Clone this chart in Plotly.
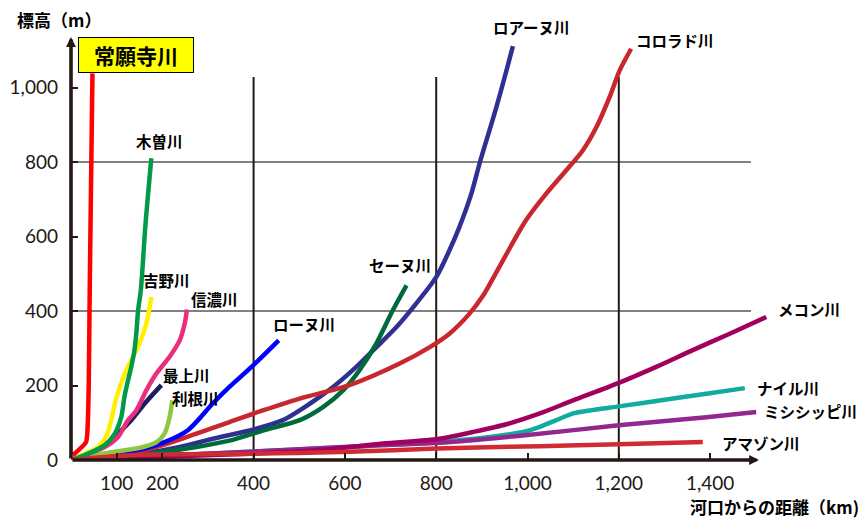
import plotly.graph_objects as go

# River longitudinal profiles: distance from the mouth (km) vs elevation (m)
joganji_km = [4, 33, 37, 39, 41, 44, 47]
joganji_m = [13, 48, 107, 214, 456, 751, 1038]

kiso_km = [0, 30, 74, 96, 110, 117, 125, 132, 139, 143, 147, 153, 163, 176]
kiso_m = [0, 13, 40, 71, 115, 169, 214, 250, 295, 339, 402, 456, 630, 810]

yoshino_km = [0, 30, 59, 77, 88, 96, 107, 121, 136, 150, 165, 176]
yoshino_m = [0, 17, 35, 62, 107, 151, 196, 241, 277, 313, 366, 438]

shinano_km = [0, 37, 74, 103, 125, 143, 165, 187, 216, 238, 249, 254]
shinano_m = [0, 17, 35, 62, 107, 133, 187, 232, 277, 321, 366, 404]

mogami_km = [0, 37, 74, 103, 132, 161, 198]
mogami_m = [0, 17, 40, 71, 107, 151, 201]

tone_km = [0, 45, 96, 158, 187, 205, 216, 222]
tone_m = [0, 13, 22, 35, 48, 71, 115, 160]

rhone_km = [0, 23, 96, 161, 205, 256, 310, 347, 399, 455]
rhone_m = [0, 11, 17, 31, 48, 80, 151, 196, 254, 321]

seine_km = [0, 128, 201, 275, 347, 420, 501, 552, 596, 632, 669, 705, 735]
seine_m = [0, 13, 22, 35, 52, 79, 107, 142, 187, 241, 313, 402, 469]

loire_km = [0, 165, 238, 311, 400, 464, 523, 574, 625, 669, 713, 756, 800,
            829, 851, 877, 895, 910, 932, 954, 968]
loire_m = [0, 19, 35, 57, 82, 107, 151, 196, 250, 303, 357, 420, 491,
           563, 626, 715, 796, 858, 948, 1046, 1111]

colorado_km = [0, 128, 201, 275, 347, 420, 501, 610, 720, 786, 829, 873, 902,
               939, 997, 1041, 1085, 1121, 1151, 1180, 1202, 1227]
colorado_m = [0, 17, 40, 71, 102, 133, 165, 201, 259, 303, 339, 393, 440,
              520, 644, 715, 778, 831, 894, 975, 1046, 1104]

mekong_km = [0, 392, 537, 683, 807, 880, 954, 1027, 1100, 1200, 1282, 1362, 1443, 1523]
mekong_m = [0, 17, 26, 44, 57, 75, 96, 125, 160, 207, 250, 295, 339, 384]

nile_km = [0, 392, 610, 800, 917, 990, 1027, 1063, 1100, 1136, 1200, 1319, 1392, 1476]
nile_m = [0, 22, 35, 48, 62, 75, 89, 107, 125, 133, 144, 165, 178, 193]

mississippi_km = [0, 392, 683, 807, 990, 1200, 1392, 1501]
mississippi_m = [0, 22, 40, 46, 66, 93, 115, 129]

amazon_km = [0, 128, 392, 610, 800, 1027, 1200, 1384]
amazon_m = [0, 13, 17, 22, 31, 37, 42, 48]

# Axis ticks
x_tickvals = [100, 200, 400, 600, 800, 1000, 1200, 1400]
x_ticktext = ["100", "200", "400", "600", "800", "1,000", "1,200", "1,400"]
y_tickvals = [0, 200, 400, 600, 800, 1000]
y_ticktext = ["0", "200", "400", "600", "800", "1,000"]
h_grid_m = [400, 800]
v_grid_km = [400, 800, 1200]

# Drawing order (back to front), colour, label offset from the line's end (px)
series = [
    ("ナイル川", nile_km, nile_m, "#12ABA0", 10, 0),
    ("ミシシッピ川", mississippi_km, mississippi_m, "#93278F", 6, 1),
    ("メコン川", mekong_km, mekong_m, "#A2005F", 10, 8),
    ("ロアーヌ川", loire_km, loire_m, "#2E3192", -22, 19),
    ("セーヌ川", seine_km, seine_m, "#006B3A", -40, 20),
    ("コロラド川", colorado_km, colorado_m, "#C8272E", 3, 9),
    ("ローヌ川", rhone_km, rhone_m, "#0000FF", -8, 16),
    ("利根川", tone_km, tone_m, "#8DC63F", -2, 2),
    ("最上川", mogami_km, mogami_m, "#1C1D5E", 0, 10),
    ("信濃川", shinano_km, shinano_m, "#EA2E7D", 2, 11),
    ("吉野川", yoshino_km, yoshino_m, "#FFF000", -10, 17),
    ("木曽川", kiso_km, kiso_m, "#009A48", -17, 17),
    ("アマゾン川", amazon_km, amazon_m, "#D02A33", 17, -1),
]

W, H = 866, 518
ML, MR, MT, MB = 71, 30, 10, 58
PX_PER_KM = 0.4565
PX_PER_M = 0.3725
plot_w = W - ML - MR
plot_h = H - MT - MB
x_max = plot_w / PX_PER_KM
y_max = plot_h / PX_PER_M

INK = "#231815"
CJK = "Noto Sans CJK JP"


def px_x(px):
    return (px - ML) / PX_PER_KM


def px_y(py):
    return (H - MB - py) / PX_PER_M


fig = go.Figure()
annotations = []

for name, xs, ys, color, dx, dy in series:
    fig.add_trace(go.Scatter(
        x=xs, y=ys, mode="lines", name=name,
        line=dict(color=color, width=4.5, shape="spline", smoothing=0.8),
        hoverinfo="name+x+y",
    ))
    annotations.append(dict(
        x=xs[-1], y=ys[-1], xref="x", yref="y", text="<b>%s</b>" % name,
        showarrow=False, xanchor="left", yanchor="middle", xshift=dx, yshift=dy,
        font=dict(family=CJK, size=15.5, color="#000000"),
    ))

# 常願寺川: steep red line with a boxed label above it
fig.add_trace(go.Scatter(
    x=joganji_km, y=joganji_m, mode="lines", name="常願寺川",
    line=dict(color="#FF0000", width=4.5, shape="spline", smoothing=0.5),
))
annotations.append(dict(
    x=joganji_km[-1], y=joganji_m[-1], xref="x", yref="y",
    text="<b>常願寺川</b>", showarrow=False, xanchor="center", yanchor="middle",
    xshift=44, yshift=18, width=112, height=32, borderpad=1, borderwidth=1,
    bgcolor="#FFFF00", bordercolor="#000000",
    font=dict(family=CJK, size=21, color="#000000"),
))

# Axes drawn as arrows
annotations.append(dict(x=px_x(759), y=0, ax=0, ay=0, xref="x", yref="y",
                        axref="x", ayref="y", text="", showarrow=True,
                        arrowhead=2, arrowsize=0.55, arrowwidth=3.6, arrowcolor=INK))
annotations.append(dict(x=0, y=px_y(37), ax=0, ay=0, xref="x", yref="y",
                        axref="x", ayref="y", text="", showarrow=True,
                        arrowhead=2, arrowsize=0.55, arrowwidth=3.6, arrowcolor=INK))

# Axis titles
annotations.append(dict(x=(59 - ML) / plot_w, y=(H - MB - 19) / plot_h,
                        xref="paper", yref="paper", text="<b>標高（m）</b>",
                        showarrow=False, xanchor="center", yanchor="middle",
                        font=dict(family=CJK, size=17, color="#000000")))
annotations.append(dict(x=(861 - ML) / plot_w, y=(H - MB - 507) / plot_h,
                        xref="paper", yref="paper", text="<b>河口からの距離（km)</b>",
                        showarrow=False, xanchor="right", yanchor="middle",
                        font=dict(family=CJK, size=17, color="#000000")))

shapes = []
for gy in h_grid_m:
    shapes.append(dict(type="line", xref="x", yref="y", x0=0, x1=px_x(751), y0=gy, y1=gy,
                       line=dict(color="#595757", width=1.5), layer="below"))
for gx in v_grid_km:
    shapes.append(dict(type="line", xref="x", yref="y", x0=gx, x1=gx, y0=0, y1=px_y(77),
                       line=dict(color=INK, width=2), layer="below"))

tick_font = dict(family="Lato", size=19, color=INK)
fig.update_layout(
    width=W, height=H,
    margin=dict(l=ML, r=MR, t=MT, b=MB, pad=0),
    paper_bgcolor="#FFFFFF", plot_bgcolor="#FFFFFF",
    showlegend=False,
    annotations=annotations,
    shapes=shapes,
    xaxis=dict(range=[0, x_max], showgrid=False, zeroline=False, showline=False,
               tickmode="array", tickvals=x_tickvals, ticktext=x_ticktext,
               ticks="inside", ticklen=7, tickwidth=2, tickcolor=INK,
               tickfont=tick_font, ticklabelstandoff=10, fixedrange=True),
    yaxis=dict(range=[0, y_max], showgrid=False, zeroline=False, showline=False,
               tickmode="array", tickvals=y_tickvals, ticktext=y_ticktext,
               ticks="inside", ticklen=7, tickwidth=2, tickcolor=INK,
               tickfont=tick_font, ticklabelstandoff=12, fixedrange=True),
)

fig.write_html("out.html")
